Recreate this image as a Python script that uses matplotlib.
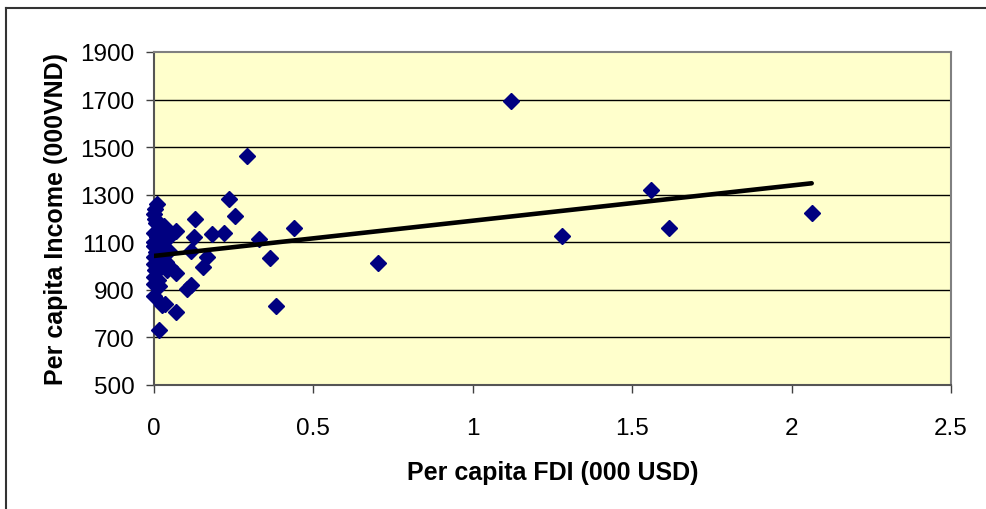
import numpy as np
import matplotlib
matplotlib.use("Agg")
import matplotlib.pyplot as plt
from matplotlib.lines import Line2D

# per capita FDI (000 USD) and per capita income (000 VND) by province
fdi = [1.12, 1.56, 1.28, 1.616, 2.063, 0.704, 0.438, 0.384, 0.365, 0.328,
       0.293, 0.234, 0.255, 0.183, 0.220, 0.129, 0.126, 0.115, 0.165, 0.153,
       0.115, 0.102, 0.068, 0.068, 0.068,
       0.010, 0.003, 0.0, 0.002, 0.005, 0.031, 0.016, 0.0, 0.010, 0.042,
       0.0, 0.0, 0.02, 0.047, 0.005, 0.0, 0.02, 0.0, 0.037, 0.05,
       0.003, 0.0, 0.012, 0.0, 0.015, 0.0, 0.026, 0.016, 0.03, 0.025,
       0.01, 0.04, 0.008, 0.02, 0.035]
income = [1694, 1320, 1126, 1160, 1223, 1013, 1160, 831, 1036, 1114,
          1462, 1282, 1210, 1133, 1139, 1200, 1121, 1065, 1038, 995,
          922, 903, 1149, 972, 807,
          1262, 1240, 1220, 1198, 1180, 1170, 1150, 1140, 1121, 1114,
          1100, 1086, 1080, 1065, 1060, 1040, 1030, 1009, 1016, 995,
          985, 954, 940, 925, 915, 873, 835, 733, 1010, 1050,
          1000, 985, 1050, 990, 840]

x_ticks = [0, 0.5, 1, 1.5, 2, 2.5]
x_labels = ["0", "0.5", "1", "1.5", "2", "2.5"]
y_ticks = [500, 700, 900, 1100, 1300, 1500, 1700, 1900]

plt.rcParams['font.family'] = ['Liberation Sans', 'DejaVu Sans']

fig = plt.figure(figsize=(9.87, 5.10), dpi=100)
ax = fig.add_axes([154 / 987, 1 - 386 / 510, 797 / 987, 333 / 510])
ax.set_facecolor("#FFFFCC")

x = np.array(fdi)
y = np.array(income)

for t in y_ticks[1:-1]:
    ax.axhline(t, color="black", lw=1, zorder=1)

ax.plot(x, y, linestyle="none", marker="D", ms=8.5, color="#000080",
        mec="#000080", zorder=3, clip_on=False)

# linear trend line over the data range
slope, icpt = np.polyfit(x, y, 1)
xs = np.array([x.min(), x.max()])
ax.plot(xs, icpt + slope * xs, color="black", lw=3.3, zorder=4,
        solid_capstyle="round")

ax.set_xlim(0, 2.5)
ax.set_ylim(500, 1900)
ax.set_xticks(x_ticks)
ax.set_xticklabels(x_labels)
ax.set_yticks(y_ticks)
ax.tick_params(labelsize=17.5, length=6, width=1, color="#404040", pad=8)
ax.tick_params(axis="x", pad=17)

for side in ["left", "bottom", "right", "top"]:
    ax.spines[side].set_color("#808080")
    ax.spines[side].set_linewidth(1.5)
ax.spines["left"].set_color("#555555")
ax.spines["bottom"].set_color("#555555")

ax.set_xlabel("Per capita FDI (000 USD)", fontsize=18, fontweight="bold",
              labelpad=15)
ax.set_ylabel("Per capita Income (000VND)", fontsize=18, fontweight="bold",
              labelpad=9)

# chart frame
fig.add_artist(Line2D([6 / 987, 6 / 987], [0, 1 - 9 / 510], color="#333333",
                      lw=1.5, transform=fig.transFigure))
fig.add_artist(Line2D([6 / 987, 1], [1 - 9 / 510, 1 - 9 / 510], color="#333333",
                      lw=1.5, transform=fig.transFigure))

fig.savefig("out.png", dpi=100)
